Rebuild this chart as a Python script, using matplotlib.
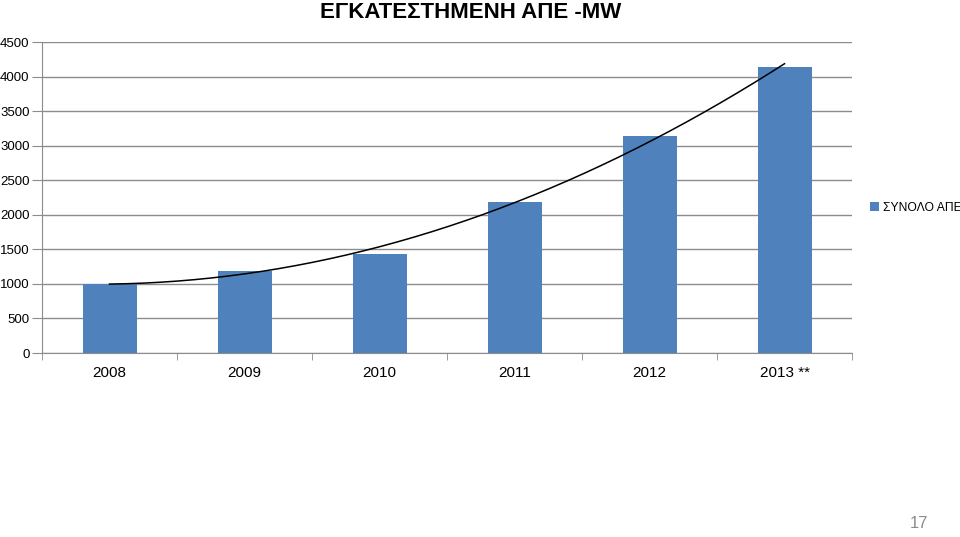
import numpy as np
import matplotlib.pyplot as plt

# Installed RES capacity (MW) per year
years = ['2008', '2009', '2010', '2011', '2012', '2013 **']
total_res = [1000, 1190, 1435, 2190, 3145, 4140]
series_name = 'ΣΥΝΟΛΟ ΑΠΕ'
title = 'ΕΓΚΑΤΕΣΤΗΜΕΝΗ ΑΠΕ -MW'
page_no = '17'

plt.rcParams['font.family'] = ['Liberation Sans', 'DejaVu Sans']

fig = plt.figure(figsize=(9.6, 5.37), dpi=100)
ax = fig.add_axes([0.04375, 0.3426, 0.84375, 0.5791])

x = np.arange(len(years))
bar_color = '#4F81BD'
ax.bar(x, total_res, width=0.4, color=bar_color, zorder=3, label=series_name)

# 2nd order polynomial trendline (like Excel)
coef = np.polyfit(x, total_res, 2)
xs = np.linspace(x[0], x[-1], 200)
ax.plot(xs, np.polyval(coef, xs), color='black', lw=1.1, zorder=4)

ax.set_xlim(-0.5, len(years) - 0.5)
ax.set_ylim(0, 4500)
ax.set_yticks(np.arange(0, 4501, 500))
ax.yaxis.grid(True, color='#8c8c8c', lw=1)
ax.set_axisbelow(True)

ax.set_xticks(x)
ax.set_xticklabels(years, fontsize=11)
ax.set_xticks(np.arange(-0.5, len(years)), minor=True)
ax.tick_params(axis='x', which='major', length=0, pad=9)
ax.tick_params(axis='x', which='minor', length=5, color='#8c8c8c')
ax.tick_params(axis='y', length=7, color='#8c8c8c', labelsize=9.5, pad=2)

for s in ['top', 'right']:
    ax.spines[s].set_visible(False)
for s in ['left', 'bottom']:
    ax.spines[s].set_color('#8c8c8c')

fig.text(0.49, 0.977, title, ha='center', va='center', fontsize=16,
         fontweight='bold')

ax.legend(loc='center left', bbox_to_anchor=(0.906, 0.613), bbox_transform=fig.transFigure,
          frameon=False, fontsize=8.7, handlelength=0.8, handleheight=0.8,
          handletextpad=0.3, borderaxespad=0, borderpad=0)

fig.text(0.957, 0.012, page_no, ha='center', va='bottom', fontsize=12, color='#8c8c8c')

plt.savefig('out.png', dpi=100)
